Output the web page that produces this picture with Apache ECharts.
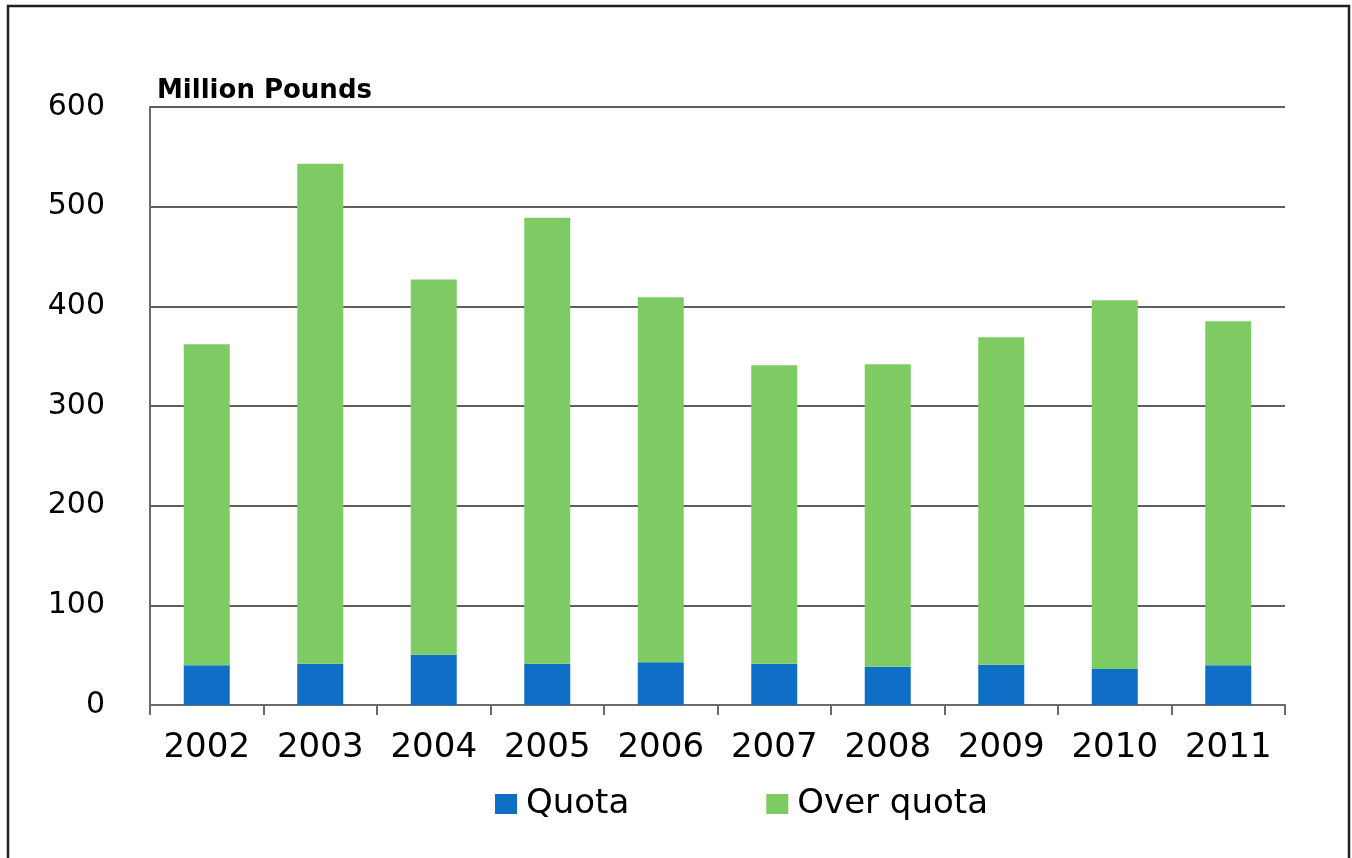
<!DOCTYPE html>
<html>
<head>
<meta charset="utf-8">
<script src="https://cdn.jsdelivr.net/npm/echarts@6/dist/echarts.min.js"></script>
<style>
html,body{margin:0;padding:0;background:#fff;}
#c{width:1352px;height:858px;}
</style>
</head>
<body>
<div id="c"></div>
<script>
const categories = ['2002','2003','2004','2005','2006','2007','2008','2009','2010','2011'];
const quota = [40, 41.5, 50.5, 41.5, 43, 41.5, 38.5, 40.5, 36, 40];
const overQuota = [322, 501.5, 376.5, 447.5, 366, 299.5, 303.5, 328.5, 370, 345];
const yTicks = [0, 100, 200, 300, 400, 500, 600];
const unitLabel = 'Million Pounds';

const chart = echarts.init(document.getElementById('c'));
const font = '"DejaVu Sans", "Liberation Sans", Arial, sans-serif';
chart.setOption({
  animation: false,
  backgroundColor: '#ffffff',
  grid: { left: 150, right: 67, top: 107, bottom: 153 },
  xAxis: {
    type: 'category',
    data: categories,
    axisLine: { lineStyle: { color: '#6a6a6a', width: 2 } },
    axisTick: { show: true, length: 10, lineStyle: { color: '#6a6a6a', width: 2 } },
    axisLabel: { color: '#000', fontSize: 34, fontFamily: font, margin: 26 }
  },
  yAxis: {
    type: 'value',
    min: yTicks[0],
    max: yTicks[yTicks.length - 1],
    interval: 100,
    axisLine: { show: true, lineStyle: { color: '#6a6a6a', width: 2 } },
    axisTick: { show: false },
    axisLabel: { color: '#000', fontSize: 30, fontFamily: font, margin: 45 },
    splitLine: { lineStyle: { color: '#5f5f5f', width: 2 } }
  },
  legend: {
    left: 490,
    top: 782,
    itemWidth: 22,
    itemHeight: 20,
    itemGap: 137,
    icon: 'rect',
    textStyle: { color: '#000', fontSize: 34, fontFamily: font, padding: [0, 0, 0, 4] },
    data: ['Quota', 'Over quota']
  },
  series: [
    { name: 'Quota', type: 'bar', stack: 'a', barWidth: 46, data: quota,
      itemStyle: { color: '#0f6fc6' } },
    { name: 'Over quota', type: 'bar', stack: 'a', barWidth: 46, data: overQuota,
      itemStyle: { color: '#7ecb63' } }
  ],
  graphic: [
    { type: 'rect', silent: true, z: 100,
      shape: { x: 8, y: 6, width: 1341, height: 900 },
      style: { fill: 'none', stroke: '#231f20', lineWidth: 2.5 } },
    { type: 'text', x: 157, y: 91, z: 100,
      style: { text: unitLabel, font: 'bold 26px ' + font, fill: '#000', verticalAlign: 'middle', align: 'left' } }
  ]
});
</script>
</body>
</html>
